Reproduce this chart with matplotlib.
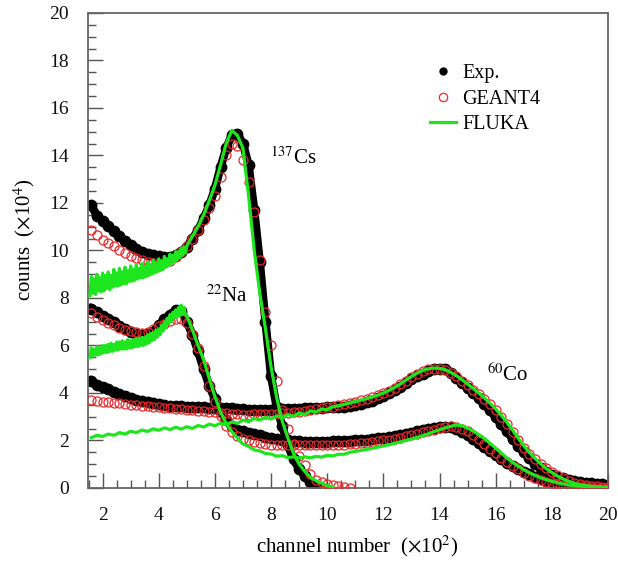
import numpy as np
import matplotlib
matplotlib.use('Agg')
import matplotlib.pyplot as plt
from matplotlib.lines import Line2D
from matplotlib.ticker import MultipleLocator

plt.rcParams['font.family'] = ['Liberation Serif', 'DejaVu Serif']
plt.rcParams['mathtext.fontset'] = 'stix'

# channel numbers (x100): measured / GEANT4 spectra are sampled every 20 channels
ch = np.round(np.arange(1.6, 20.01, 0.2), 1)
# FLUKA output: every 5 channels below 500, then every 20
ch_fine = np.round(1.55 + 0.05 * np.arange(69), 2)
ch_coarse = np.round(np.arange(5.0, 20.01, 0.2), 1)

# ---------------- 137Cs ----------------
cs_exp = [11.9, 11.45, 11.25, 11.05, 10.8, 10.6, 10.4, 10.22, 10.08, 9.95,
          9.87, 9.8, 9.75, 9.72, 9.72, 9.8, 9.95, 10.15, 10.5, 10.85,
          11.35, 11.9, 12.6, 13.5, 14.3, 14.85, 14.9, 14.5, 13.6, 11.7,
          9.5, 7.0, 4.7, 3.4, 2.6, 1.8, 1.2, 0.8, 0.5, 0.27,
          0.1]
cs_geant = [10.85, 10.65, 10.45, 10.3, 10.17, 10.03, 9.9, 9.78, 9.68, 9.6,
            9.53, 9.47, 9.45, 9.46, 9.55, 9.72, 9.95, 10.2, 10.5, 10.85,
            11.3, 11.8, 12.3, 13.1, 14.0, 14.5, 14.4, 13.8, 12.9, 11.6,
            9.6, 7.4, 6.0, 4.5, 3.3, 2.5, 1.85, 1.35, 0.95, 0.6,
            0.35, 0.24, 0.17, 0.12, 0.08, 0.05, 0.02]
cs_fluka_low = [8.1, 8.9, 8.2, 8.8, 8.15, 9.0, 8.3, 8.85, 8.25, 9.05,
                8.3, 8.95, 8.4, 9.1, 8.35, 8.95, 8.45, 9.2, 8.5, 9.05,
                8.5, 9.25, 8.55, 9.1, 8.6, 9.3, 8.6, 9.15, 8.7, 9.35,
                8.7, 9.2, 8.75, 9.4, 8.8, 9.25, 8.85, 9.45, 8.85, 9.3,
                8.9, 9.5, 8.95, 9.4, 9.0, 9.6, 9.05, 9.45, 9.1, 9.65,
                9.15, 9.55, 9.2, 9.75, 9.3, 9.65, 9.35, 9.85, 9.45, 9.8,
                9.5, 9.95, 9.6, 9.95, 9.7, 10.1, 9.8, 10.15, 9.9]
cs_fluka_high = [10.2, 10.6, 11.0, 11.5, 12.1, 12.75, 13.6, 14.5, 15.05, 14.85,
                 14.3, 12.3, 10.0, 8.2, 6.7, 5.1, 3.8, 2.8, 2.1, 1.45,
                 1.0, 0.7, 0.45, 0.3, 0.2, 0.1, 0.03]

# ---------------- 22Na ----------------
na_exp = [7.55, 7.4, 7.25, 7.1, 6.97, 6.83, 6.7, 6.58, 6.5, 6.45,
          6.47, 6.58, 6.85, 7.1, 7.3, 7.48, 7.45, 7.0, 6.45, 5.75,
          5.0, 4.3, 3.75, 3.25, 2.85, 2.6, 2.45, 2.38, 2.33, 2.28,
          2.22, 2.16, 2.1, 2.06, 2.03, 2.0, 1.98, 1.96, 1.95, 1.95,
          1.95, 1.95, 1.95, 1.96, 1.97, 1.98, 1.99, 2.0, 2.02, 2.04,
          2.06, 2.09, 2.12, 2.15, 2.19, 2.23, 2.28, 2.33, 2.38, 2.43,
          2.48, 2.53, 2.56, 2.57, 2.55, 2.48, 2.37, 2.23, 2.07, 1.9,
          1.72, 1.55, 1.38, 1.22, 1.07, 0.93, 0.8, 0.68, 0.57, 0.47,
          0.38, 0.3, 0.24, 0.19, 0.15, 0.12, 0.1, 0.08, 0.07, 0.06,
          0.06, 0.05, 0.05]
na_geant = [7.35, 7.2, 7.07, 6.95, 6.85, 6.75, 6.67, 6.6, 6.55, 6.53,
            6.58, 6.68, 6.8, 6.92, 7.02, 7.12, 7.12, 6.95, 6.5, 5.9,
            5.15, 4.3, 3.6, 3.03, 2.6, 2.35, 2.2, 2.08, 2.0, 1.94,
            1.9, 1.86, 1.83, 1.81, 1.8, 1.79, 1.79, 1.79, 1.79, 1.79,
            1.79, 1.79, 1.8, 1.8, 1.81, 1.82, 1.84, 1.86, 1.88, 1.91,
            1.94, 1.97, 2.0, 2.04, 2.08, 2.12, 2.17, 2.22, 2.28, 2.34,
            2.4, 2.46, 2.52, 2.57, 2.6, 2.58, 2.5, 2.38, 2.23, 2.06,
            1.85, 1.65, 1.46, 1.28, 1.1, 0.93, 0.78, 0.64, 0.52, 0.42,
            0.33, 0.26, 0.2, 0.15, 0.11, 0.08, 0.05, 0.04, 0.03, 0.02,
            0.01, 0.01, 0.0]
na_fluka_low = [5.5, 5.9, 5.55, 5.85, 5.6, 5.95, 5.6, 5.9, 5.65, 6.0,
                5.7, 6.0, 5.7, 6.05, 5.75, 6.1, 5.75, 6.05, 5.8, 6.15,
                5.8, 6.15, 5.85, 6.2, 5.85, 6.15, 5.85, 6.25, 5.9, 6.2,
                5.9, 6.25, 5.95, 6.3, 5.95, 6.3, 6.0, 6.35, 6.0, 6.35,
                6.05, 6.45, 6.1, 6.5, 6.2, 6.55, 6.25, 6.65, 6.35, 6.7,
                6.45, 6.85, 6.6, 7.0, 6.75, 7.15, 6.9, 7.3, 7.0, 7.4,
                7.15, 7.5, 7.2, 7.6, 7.25, 7.7, 7.3, 7.6, 7.3]
na_fluka_high = [7.25, 6.65, 6.0, 5.4, 4.6, 3.85, 3.2, 2.72, 2.38, 2.1,
                 1.85, 1.75, 1.6, 1.56, 1.45, 1.43, 1.34, 1.36, 1.28, 1.31,
                 1.26, 1.31, 1.27, 1.33, 1.3, 1.37, 1.35, 1.42, 1.42, 1.5,
                 1.54, 1.58, 1.62, 1.67, 1.72, 1.77, 1.82, 1.88, 1.94, 2.0,
                 2.06, 2.13, 2.2, 2.28, 2.37, 2.45, 2.53, 2.6, 2.65, 2.62,
                 2.52, 2.4, 2.25, 2.08, 1.88, 1.68, 1.47, 1.27, 1.08, 0.92,
                 0.77, 0.64, 0.53, 0.43, 0.35, 0.28, 0.22, 0.17, 0.13, 0.1,
                 0.08, 0.06, 0.05, 0.04, 0.03, 0.02]

# ---------------- 60Co ----------------
co_exp = [4.5, 4.35, 4.25, 4.15, 4.03, 3.95, 3.87, 3.8, 3.72, 3.66,
          3.61, 3.57, 3.53, 3.5, 3.47, 3.45, 3.44, 3.43, 3.42, 3.41,
          3.4, 3.38, 3.37, 3.37, 3.36, 3.35, 3.33, 3.31, 3.3, 3.3,
          3.3, 3.3, 3.3, 3.3, 3.31, 3.32, 3.33, 3.34, 3.35, 3.36,
          3.37, 3.38, 3.39, 3.4, 3.41, 3.42, 3.44, 3.48, 3.53, 3.6,
          3.68, 3.77, 3.86, 3.98, 4.12, 4.27, 4.42, 4.57, 4.7, 4.82,
          4.93, 5.0, 5.03, 5.0, 4.85, 4.62, 4.42, 4.22, 4.0, 3.78,
          3.53, 3.27, 2.98, 2.68, 2.38, 2.08, 1.78, 1.5, 1.25, 1.02,
          0.83, 0.68, 0.56, 0.47, 0.4, 0.34, 0.29, 0.25, 0.22, 0.19,
          0.17, 0.15, 0.13]
co_geant = [3.7, 3.66, 3.63, 3.6, 3.58, 3.56, 3.53, 3.5, 3.48, 3.46,
            3.44, 3.42, 3.4, 3.37, 3.35, 3.33, 3.31, 3.29, 3.27, 3.25,
            3.23, 3.2, 3.18, 3.16, 3.14, 3.12, 3.1, 3.09, 3.09, 3.1,
            3.1, 3.11, 3.12, 3.13, 3.15, 3.17, 3.19, 3.22, 3.25, 3.28,
            3.31, 3.35, 3.39, 3.43, 3.48, 3.53, 3.58, 3.63, 3.69, 3.75,
            3.82, 3.9, 3.99, 4.1, 4.22, 4.36, 4.52, 4.68, 4.82, 4.93,
            5.0, 5.03, 5.02, 4.96, 4.85, 4.7, 4.52, 4.33, 4.14, 3.95,
            3.74, 3.52, 3.28, 3.0, 2.7, 2.36, 2.02, 1.7, 1.45, 1.22,
            1.02, 0.84, 0.68, 0.53, 0.41, 0.31, 0.23, 0.17, 0.12, 0.09,
            0.07, 0.06, 0.05]
co_fluka = [2.12, 2.22, 2.17, 2.27, 2.22, 2.33, 2.27, 2.39, 2.33, 2.44,
            2.38, 2.49, 2.43, 2.53, 2.46, 2.56, 2.48, 2.58, 2.51, 2.63,
            2.57, 2.69, 2.62, 2.73, 2.66, 2.78, 2.72, 2.86, 2.79, 2.92,
            2.86, 2.98, 2.9, 3.03, 2.97, 3.09, 3.02, 3.16, 3.09, 3.24,
            3.2, 3.32, 3.3, 3.42, 3.46, 3.52, 3.58, 3.64, 3.7, 3.76,
            3.83, 3.91, 4.0, 4.11, 4.24, 4.38, 4.54, 4.7, 4.84, 4.95,
            5.02, 5.05, 5.04, 4.98, 4.87, 4.73, 4.56, 4.38, 4.19, 4.0,
            3.79, 3.57, 3.33, 3.06, 2.76, 2.44, 2.1, 1.78, 1.5, 1.25,
            1.02, 0.82, 0.65, 0.5, 0.38, 0.28, 0.2, 0.14, 0.1, 0.07,
            0.05, 0.04, 0.03]

exp_sets = [cs_exp, na_exp, co_exp]
geant_sets = [cs_geant, na_geant, co_geant]
fluka_sets = [(cs_fluka_low, cs_fluka_high), (na_fluka_low, na_fluka_high)]

GREEN = '#1ee61e'
RED = '#e8282a'

fig = plt.figure(figsize=(6.18, 5.65), dpi=100)
ax = fig.add_axes([0.1424, 0.1363, 0.8414, 0.8407])

# measured spectra: dense dots, drawn as dots joined by a thick line
for y in exp_sets:
    ax.plot(ch[:len(y)], y, 'o-', color='black', lw=6, ms=8.5, mew=0, zorder=2)

# GEANT4: open red circles
for y in geant_sets:
    ax.plot(ch[:len(y)], y, 'o', ls='none', mfc='none', mec=RED, ms=6.5, mew=0.9, zorder=3)

# FLUKA: green lines
for low, high in fluka_sets:
    x = np.concatenate([ch_fine[:len(low)], ch_coarse[:len(high)]])
    ax.plot(x, np.concatenate([low, high]), '-', color=GREEN, lw=2.3, zorder=4)
ax.plot(ch[:len(co_fluka)], co_fluka, '-', color=GREEN, lw=2.3, zorder=4)

ax.set_xlim(1.48, 20.0)
ax.set_ylim(0, 20)
ax.xaxis.set_major_locator(MultipleLocator(2))
ax.xaxis.set_minor_locator(MultipleLocator(0.5))
ax.yaxis.set_major_locator(MultipleLocator(2))
ax.yaxis.set_minor_locator(MultipleLocator(0.5))
ax.tick_params(which='both', direction='in', colors='#555555', labelcolor='#111111',
               top=False, right=False)
ax.tick_params(which='major', length=11, width=1.0, labelsize=14)
ax.tick_params(which='minor', length=5.5, width=1.0)
ax.tick_params(axis='y', which='major', pad=14)
ax.tick_params(axis='x', which='major', pad=14)
for s in ax.spines.values():
    s.set_color('#666666')
    s.set_linewidth(1.3)

ax.set_xlabel(r'channel number  ($\times$10$^2$)', fontsize=15)
ax.set_ylabel(r'counts  ($\times$10$^4$)', fontsize=15)
ax.xaxis.set_label_coords(0.518, -0.095)
ax.yaxis.set_label_coords(-0.099, 0.522)

# isotope labels
ax.text(7.95, 13.9, r'$^{137}$Cs', fontsize=15, va='center', ha='left')
ax.text(5.68, 8.1, r'$^{22}$Na', fontsize=15, va='center', ha='left')
ax.text(15.68, 4.77, r'$^{60}$Co', fontsize=15, va='center', ha='left')

handles = [
    Line2D([], [], marker='o', ls='none', color='black', ms=6, mew=0),
    Line2D([], [], marker='o', ls='none', mfc='none', mec=RED, ms=6, mew=0.9),
    Line2D([], [], color=GREEN, lw=2.3),
]
ax.legend(handles, ['Exp.', 'GEANT4', 'FLUKA'], loc='upper left',
          bbox_to_anchor=(0.623, 0.93), frameon=False, fontsize=14.5,
          handlelength=1.3, handletextpad=0.3, labelspacing=0.3)

fig.savefig('out.png', dpi=100)
